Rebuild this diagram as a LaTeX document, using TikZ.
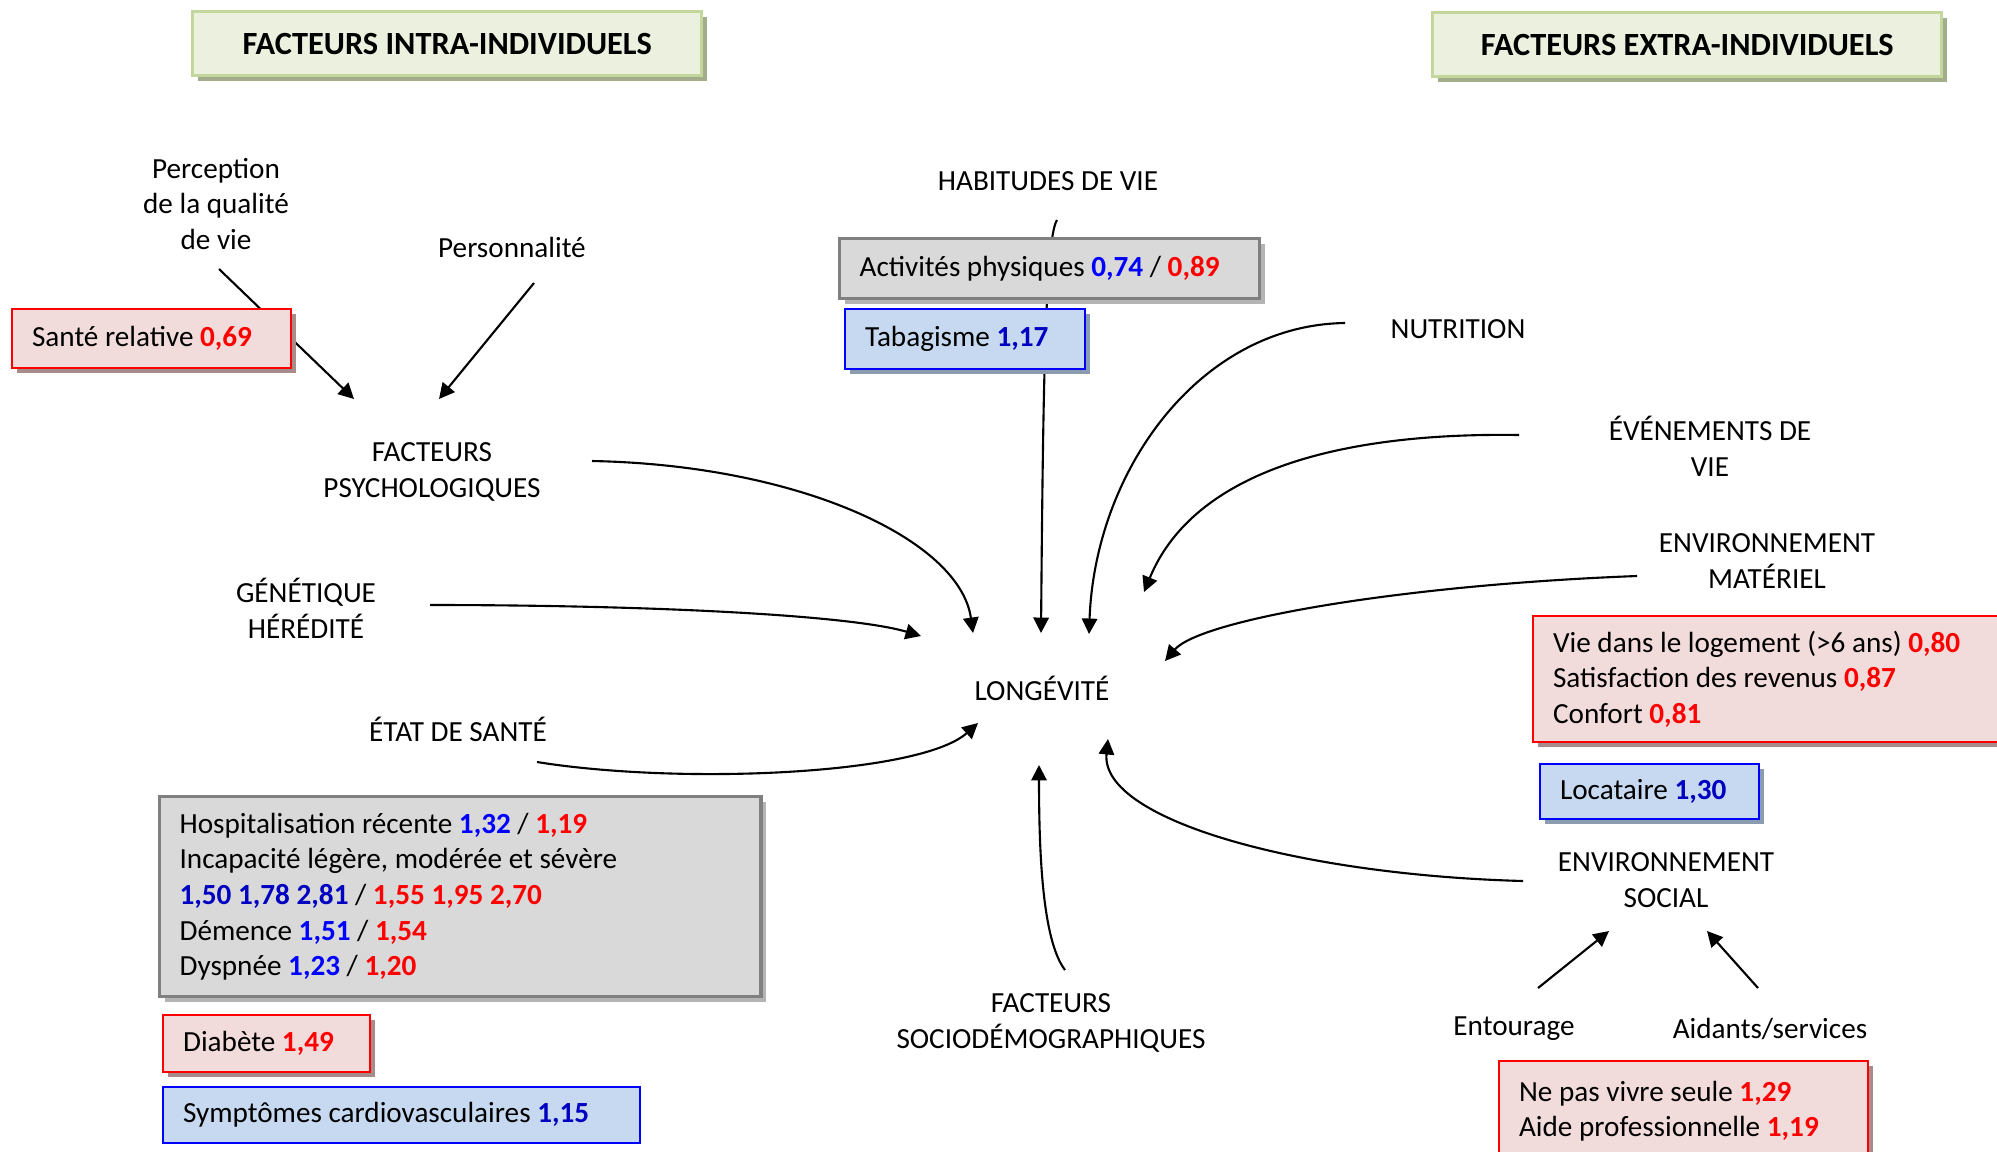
\documentclass[tikz,border=0pt]{standalone}
\usepackage{fontspec}
\setmainfont{Carlito}
\usetikzlibrary{shadows,arrows.meta,backgrounds}
\definecolor{pinkfill}{HTML}{F2DCDB}
\definecolor{pinkshadow}{HTML}{A88C8C}
\definecolor{bluefill}{HTML}{C6D9F1}
\definecolor{blueshadow}{HTML}{8C9CB0}
\definecolor{grayfill}{HTML}{D9D9D9}
\definecolor{grayline}{HTML}{808080}
\definecolor{grayshadow}{HTML}{B4B4B4}
\definecolor{greenfill}{HTML}{EBF1DE}
\definecolor{greenline}{HTML}{C3D69B}
\definecolor{greenshadow}{HTML}{A3AD8C}
\definecolor{valblue}{HTML}{0000FF}
\definecolor{valnavy}{HTML}{0000C0}
\definecolor{valred}{HTML}{FF0000}
\newcommand{\valb}[1]{\textcolor{valblue}{\textbf{#1}}}
\newcommand{\valn}[1]{\textcolor{valnavy}{\textbf{#1}}}
\newcommand{\valr}[1]{\textcolor{valred}{\textbf{#1}}}
\begin{document}
\begin{tikzpicture}[x=0.01cm,y=-0.01cm,
  font=\fontsize{8.3}{10.15}\selectfont,
  arr/.style={line width=0.6pt,-{Triangle[length=4.4pt,width=4.4pt]}},
  lbl/.style={align=center},
  box/.style={anchor=north west,align=flush left,inner xsep=0.2cm,inner ysep=0pt,line width=0.6pt,
    execute at begin node={\spaceskip=0pt\xspaceskip=0pt}},
  pinkbox/.style={box,draw=valred,fill=pinkfill,
    drop shadow={shadow xshift=1.4pt,shadow yshift=-1.4pt,fill=pinkshadow,opacity=1}},
  bluebox/.style={box,draw=valblue,fill=bluefill,
    drop shadow={shadow xshift=1.4pt,shadow yshift=-1.4pt,fill=blueshadow,opacity=1}},
  graybox/.style={box,draw=grayline,fill=grayfill,line width=0.9pt,
    drop shadow={shadow xshift=1.4pt,shadow yshift=-1.4pt,fill=grayshadow,opacity=1}},
  titlebox/.style={anchor=north west,align=center,inner sep=0pt,draw=greenline,fill=greenfill,
    line width=0.9pt,minimum width=5.09cm,minimum height=0.64cm,font=\fontsize{9.2}{10}\selectfont\bfseries,
    drop shadow={shadow xshift=1.4pt,shadow yshift=-1.4pt,fill=greenshadow,opacity=1}}]
\useasboundingbox (0,0) rectangle (1997,1151);

% titres
\node[titlebox] (intra) at (191,10) {FACTEURS INTRA-INDIVIDUELS};
\node[titlebox] (extra) at (1431,11) {FACTEURS EXTRA-INDIVIDUELS};

% centre
\node[lbl] (lon) at (1042,688) {LONGÉVITÉ};

% facteurs intra-individuels
\node[lbl] (perc) at (216,204) {Perception\\de la qualité\\de vie};
\node[lbl] (pers) at (512,247) {Personnalité};
\node[lbl] (psy) at (432,472) {FACTEURS\\PSYCHOLOGIQUES};
\node[lbl] (gen) at (306,608) {GÉNÉTIQUE\\HÉRÉDITÉ};
\node[lbl] (sante) at (458,729) {ÉTAT DE SANTÉ};
\node[lbl] (hab) at (1048,181) {HABITUDES DE VIE};

% facteurs extra-individuels
\node[lbl] (nut) at (1458,329) {NUTRITION};
\node[lbl] (evt) at (1710,446) {ÉVÉNEMENTS DE\\VIE};
\node[lbl] (mat) at (1767,561) {ENVIRONNEMENT\\MATÉRIEL};
\node[lbl] (soc) at (1666,880) {ENVIRONNEMENT\\SOCIAL};
\node[lbl] (socdem) at (1051,1023) {FACTEURS\\SOCIODÉMOGRAPHIQUES};
\node[lbl] (ent) at (1514,1029) {Entourage};
\node[lbl] (aid) at (1770,1029) {Aidants/services};

% bouts des fleches
\coordinate (perc-out) at (219,269);
\coordinate (psy-in1) at (354,399);
\coordinate (pers-out) at (534,283);
\coordinate (psy-in2) at (439,399);
\coordinate (psy-out) at (592,461);
\coordinate (lon-psy) at (973,633);
\coordinate (gen-out) at (430,605);
\coordinate (lon-gen) at (921,636);
\coordinate (sante-out) at (537,762);
\coordinate (lon-sante) at (978,723);
\coordinate (hab-out) at (1057,220);
\coordinate (lon-hab) at (1041,633);
\coordinate (nut-out) at (1345,323);
\coordinate (lon-nut) at (1089,634);
\coordinate (evt-out) at (1519,435);
\coordinate (lon-evt) at (1144,592);
\coordinate (mat-out) at (1637,576);
\coordinate (lon-mat) at (1165,661);
\coordinate (soc-out) at (1523,881);
\coordinate (lon-soc) at (1108,739);
\coordinate (socdem-out) at (1065,970);
\coordinate (lon-socdem) at (1039,765);
\coordinate (ent-out) at (1538,988);
\coordinate (soc-in1) at (1609,931);
\coordinate (aid-out) at (1758,988);
\coordinate (soc-in2) at (1707,931);

\begin{scope}[on background layer]
\draw[arr] (perc-out) -- (psy-in1);
\draw[arr] (hab-out) .. controls (1045,238) and (1043,400) .. (lon-hab);
\end{scope}
\draw[arr] (pers-out) -- (psy-in2);
\draw[arr] (psy-out) .. controls (800,465) and (960,540) .. (lon-psy);
\draw[arr] (gen-out) .. controls (650,605) and (850,615) .. (lon-gen);
\draw[arr] (sante-out) .. controls (680,785) and (920,775) .. (lon-sante);
\draw[arr] (nut-out) .. controls (1200,325) and (1095,470) .. (lon-nut);
\draw[arr] (evt-out) .. controls (1320,432) and (1190,480) .. (lon-evt);
\draw[arr] (mat-out) .. controls (1400,585) and (1200,620) .. (lon-mat);
\draw[arr] (soc-out) .. controls (1300,875) and (1100,820) .. (lon-soc);
\draw[arr] (socdem-out) .. controls (1042,940) and (1039,850) .. (lon-socdem);
\draw[arr] (ent-out) -- (soc-in1);
\draw[arr] (aid-out) -- (soc-in2);

% encadres
\node[pinkbox,text width=2.39cm,minimum height=0.59cm] (b-sante) at (11,308) {Santé relative \valr{0,69}};
\node[graybox,text width=3.80cm,minimum height=0.60cm] (b-act) at (838,237) {Activités physiques \valb{0,74} / \valr{0,89}};
\node[bluebox,text width=2.00cm,minimum height=0.60cm] (b-tab) at (844,308) {Tabagisme \valn{1,17}};
\node[graybox,text width=5.61cm,minimum height=2.00cm] (b-hosp) at (158,795) {Hospitalisation récente \valb{1,32} / \valr{1,19}\\
  Incapacité légère, modérée et sévère\\
  \valn{1,50 1,78 2,81} / \valr{1,55 1,95 2,70}\\
  Démence \valb{1,51} / \valr{1,54}\\
  Dyspnée \valb{1,23} / \valr{1,20}};
\node[pinkbox,text width=1.67cm,minimum height=0.57cm] (b-diab) at (162,1014) {Diabète \valr{1,49}};
\node[box,draw=valblue,fill=bluefill,text width=4.37cm,minimum height=0.56cm] (b-card) at (162,1086) {Symptômes cardiovasculaires \valn{1,15}};
\node[pinkbox,text width=4.40cm,minimum height=1.26cm] (b-mat) at (1532,615) {Vie dans le logement (>6 ans) \valr{0,80}\\
  Satisfaction des revenus \valr{0,87}\\
  Confort \valr{0,81}};
\node[bluebox,text width=1.79cm,minimum height=0.55cm] (b-loc) at (1539,763) {Locataire \valn{1,30}};
\node[pinkbox,text width=3.29cm,minimum height=1.00cm] (b-soc) at (1498,1060) {Ne pas vivre seule \valr{1,29}\\
  Aide professionnelle \valr{1,19}};
\end{tikzpicture}
\end{document}
